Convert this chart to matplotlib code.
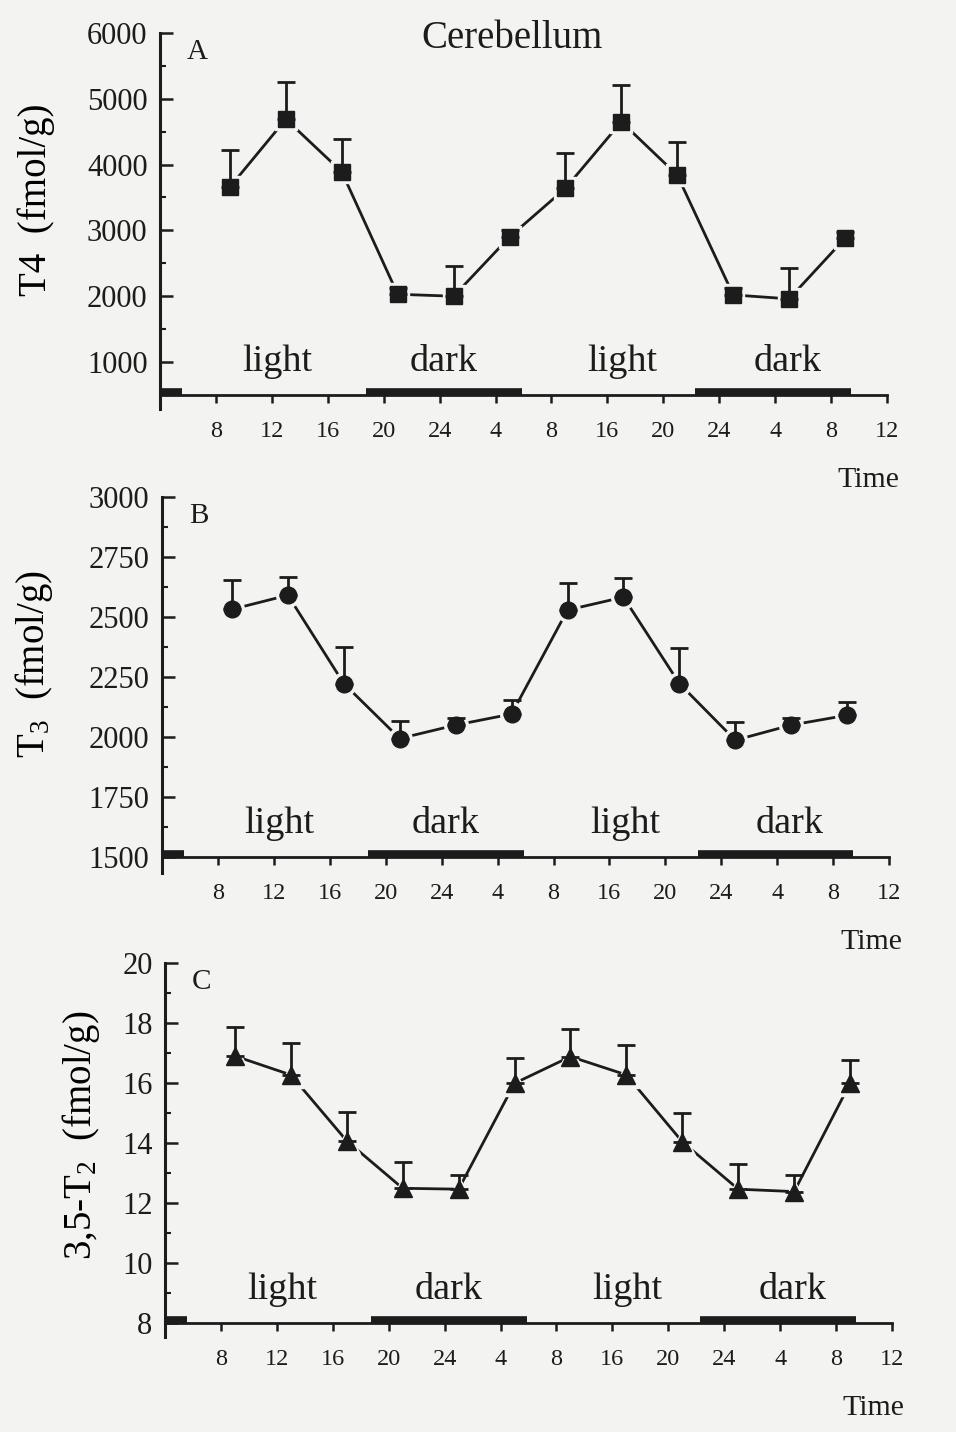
import matplotlib
matplotlib.use('Agg')
import matplotlib.pyplot as plt
from matplotlib.transforms import offset_copy

# ── Style ─────────────────────────────────────────────────────
PAPER = '#f3f3f1'
INK   = '#1c1c1c'

plt.rcParams.update({
    'font.family':        'Liberation Serif',
    'mathtext.fontset':   'custom',
    'mathtext.rm':        'Liberation Serif',
    'mathtext.it':        'Liberation Serif:italic',
    'text.color':         INK,
    'axes.edgecolor':     INK,
    'xtick.color':        INK,
    'ytick.color':        INK,
    'figure.facecolor':   PAPER,
    'axes.facecolor':     PAPER,
})

# ── Data ──────────────────────────────────────────────────────
hours      = [9, 13, 17, 21, 25, 29, 33, 37, 41, 45, 49, 53]
tick_pos   = [8, 12, 16, 20, 24, 28, 32, 36, 40, 44, 48, 52, 56]
tick_lbls  = ['8', '12', '16', '20', '24', '4', '8', '16', '20', '24', '4', '8', '12']

t4_mean = [3660, 4690, 3890, 2030, 2000, 2900, 3640, 4650, 3840, 2020, 1960, 2880]
t4_sem  = [560, 565, 500, 100, 460, 100, 540, 560, 500, 100, 470, 100]

t3_mean = [2531, 2590, 2222, 1993, 2049, 2095, 2528, 2582, 2222, 1986, 2049, 2090]
t3_sem  = [122, 77, 153, 74, 30, 60, 112, 79, 148, 74, 30, 55]

t2_mean = [16.90, 16.27, 14.07, 12.49, 12.46, 15.99, 16.88, 16.27, 14.04, 12.46, 12.38, 15.99]
t2_sem  = [0.96, 1.07, 0.97, 0.89, 0.47, 0.83, 0.91, 1.00, 0.97, 0.84, 0.55, 0.78]

dark_periods = [(4.0, 5.6), (18.7, 29.9), (42.3, 53.4)]
phase_labels = [('light', 12.4), ('dark', 24.3), ('light', 37.1), ('dark', 48.9)]

fig = plt.figure(figsize=(9.56, 14.32), dpi=100)

panels = [
    dict(rect=[0.1674, 0.7144, 0.7604, 0.2626], ylim=(287, 6000), base=500,
         yticks=[1000, 2000, 3000, 4000, 5000, 6000], minor=500,
         mean=t4_mean, sem=t4_sem, marker='s', ms=11.5,
         ylabel='T4  (fmol/g)', lab_xy=(-0.144, 0.556), letter='A'),
    dict(rect=[0.1695, 0.3904, 0.7605, 0.2627], ylim=(1433, 3000), base=1500,
         yticks=[1500, 1750, 2000, 2250, 2500, 2750, 3000], minor=125,
         mean=t3_mean, sem=t3_sem, marker='o', ms=12,
         ylabel=r'T$_{3}$  (fmol/g)', lab_xy=(-0.147, 0.555), letter='B'),
    dict(rect=[0.1726, 0.0663, 0.7605, 0.2612], ylim=(7.53, 20), base=8,
         yticks=[8, 10, 12, 14, 16, 18, 20], minor=1,
         mean=t2_mean, sem=t2_sem, marker='^', ms=13,
         ylabel=r'3,5-T$_{2}$  (fmol/g)', lab_xy=(-0.087, 0.54), letter='C'),
]

for p in panels:
    ax = fig.add_axes(p['rect'])
    ax.set_xlim(4, 56)
    ax.set_ylim(*p['ylim'])

    for side in ('top', 'right'):
        ax.spines[side].set_visible(False)
    ax.spines['bottom'].set_position(('data', p['base']))
    ax.spines['left'].set_linewidth(2.2)
    ax.spines['bottom'].set_linewidth(2.0)

    # y axis: inward ticks with minor ticks between
    ax.set_yticks(p['yticks'])
    ax.set_yticklabels([str(v) for v in p['yticks']], fontsize=22)
    lo, hi = p['yticks'][0], p['yticks'][-1]
    minors = []
    v = lo + p['minor']
    while v < hi:
        if v not in p['yticks']:
            minors.append(v)
        v += p['minor']
    ax.set_yticks(minors, minor=True)
    ax.tick_params(axis='y', which='major', direction='in', length=9, width=1.8, pad=9)
    ax.tick_params(axis='y', which='minor', direction='in', length=4.5, width=1.5)

    # x axis: outward ticks with clock-time labels
    ax.set_xticks(tick_pos)
    ax.set_xticklabels(tick_lbls, fontsize=17.5)
    ax.tick_params(axis='x', direction='out', length=6, width=1.8, pad=13)

    # light/dark bars sitting on the time axis
    bar_tr = offset_copy(ax.transData, fig=fig, y=2.5, units='dots')
    for x0, x1 in dark_periods:
        ax.plot([x0, x1], [p['base'], p['base']], color=INK, lw=5.5,
                solid_capstyle='butt', transform=bar_tr, clip_on=False, zorder=6)

    for txt, xh in phase_labels:
        ax.annotate(txt, xy=(xh, p['base']), xytext=(0, 17), textcoords='offset points',
                    ha='center', va='baseline', fontsize=27.5)

    # series: connecting line, halo gap, upward error bars, filled markers
    ax.plot(hours, p['mean'], color=INK, lw=2.0, zorder=2)
    ax.plot(hours, p['mean'], ls='none', marker=p['marker'], ms=p['ms'] + 5,
            color=PAPER, mec=PAPER, zorder=3)
    ax.errorbar(hours, p['mean'], yerr=[[0] * len(hours), p['sem']], fmt='none',
                ecolor=INK, elinewidth=2.0, capsize=6.5, capthick=2.0, zorder=4)
    ax.plot(hours, p['mean'], ls='none', marker=p['marker'], ms=p['ms'],
            color=INK, mec=INK, zorder=5)

    ax.set_ylabel(p['ylabel'], fontsize=28)
    ax.yaxis.set_label_coords(*p['lab_xy'])

    ax.text(0.037, 0.95, p['letter'], transform=ax.transAxes, fontsize=21,
            ha='left', va='center')

    # axis title at the right end of the time axis
    ax.annotate('Time', xy=(54.7, p['base']), xytext=(0, -66), textcoords='offset points',
                ha='center', va='baseline', fontsize=21.5)

fig.text(512 / 956, 1 - 48 / 1432, 'Cerebellum', ha='center', va='baseline', fontsize=28)

plt.savefig('out.png', dpi=100, facecolor=PAPER)
plt.close()
